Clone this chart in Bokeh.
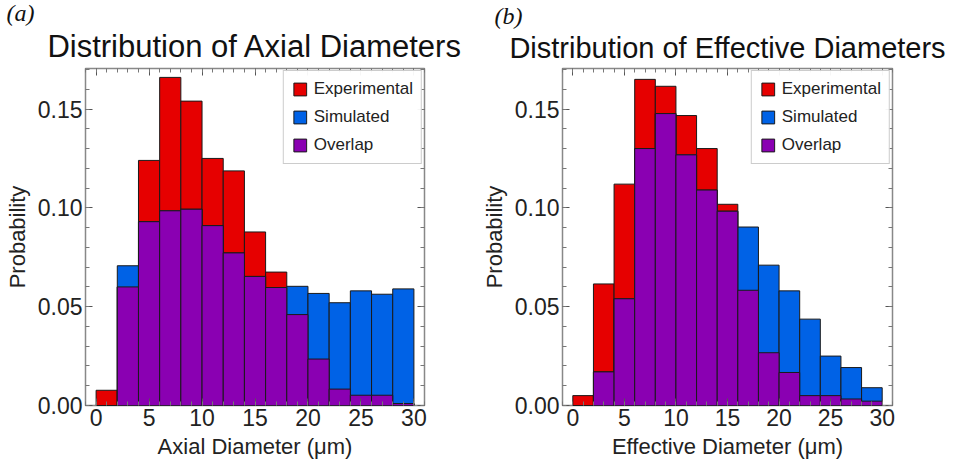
import numpy as np
from bokeh.plotting import figure
from bokeh.layouts import row
from bokeh.models import (Range1d, LinearAxis, SingleIntervalTicker, PrintfTickFormatter,
                          CustomJSTickFormatter, Legend, LegendItem, Title)
from bokeh.embed import file_html
from bokeh.resources import INLINE

bin_left = [0, 2, 4, 6, 8, 10, 12, 14, 16, 18, 20, 22, 24, 26, 28]
bin_right = [2, 4, 6, 8, 10, 12, 14, 16, 18, 20, 22, 24, 26, 28, 30]

axial_experimental = [0.0077, 0.060, 0.124, 0.166, 0.154, 0.125, 0.1187, 0.0878,
                      0.0675, 0.046, 0.0235, 0.0083, 0.0052, 0.0052, 0.001]
axial_simulated = [0.0, 0.0707, 0.093, 0.0985, 0.0993, 0.091, 0.0772, 0.0653,
                   0.0597, 0.0603, 0.0567, 0.052, 0.058, 0.0563, 0.059]

effective_experimental = [0.005, 0.0615, 0.112, 0.165, 0.1615, 0.1467, 0.130, 0.1018,
                          0.0583, 0.0267, 0.0167, 0.005, 0.005, 0.0033, 0.0022]
effective_simulated = [0.0, 0.017, 0.054, 0.130, 0.1477, 0.1268, 0.109, 0.0983,
                       0.0903, 0.071, 0.058, 0.0437, 0.025, 0.0192, 0.009]

x_ticks_interval = 5
y_ticks_interval = 0.05

RED = "#E60000"
BLUE = "#0062E6"
PURPLE = "#8A00B2"
FONT = "Liberation Sans"


def style_axis(ax, interval, show_labels):
    ax.ticker = SingleIntervalTicker(interval=interval, num_minor_ticks=5)
    ax.major_tick_in = 7
    ax.major_tick_out = 0
    ax.minor_tick_in = 4
    ax.minor_tick_out = 0
    ax.major_tick_line_color = "#555555"
    ax.minor_tick_line_color = "#777777"
    ax.axis_line_color = None
    ax.major_label_text_font = FONT
    ax.major_label_text_color = "#222222"
    ax.axis_label_text_font = FONT
    ax.axis_label_text_font_style = "normal"
    ax.axis_label_text_color = "#222222"
    if show_labels:
        ax.major_label_text_font_size = "23px"
        ax.axis_label_text_font_size = "22px"
        ax.major_label_standoff = 3
        ax.axis_label_standoff = 5
    else:
        ax.formatter = CustomJSTickFormatter(code="return ''")
        ax.major_label_standoff = 0


def make_panel(title, title_size, xlabel, tag, exp, sim, width, bl, br):
    p = figure(width=width, height=462, output_backend="svg", toolbar_location=None,
               title=None,
               x_range=Range1d(-1, 31), y_range=Range1d(0, 0.1705),
               min_border_left=bl, min_border_right=br, min_border_top=65,
               min_border_bottom=57)
    p.grid.visible = False
    p.outline_line_color = "#888888"
    p.outline_line_width = 1.5
    p.background_fill_color = "white"

    overlap = np.minimum(np.array(exp), np.array(sim))
    r_exp = p.quad(left=bin_left, right=bin_right, bottom=0, top=exp,
                   fill_color=RED, line_color="#1a1a1a", line_width=1)
    r_sim = p.quad(left=bin_left, right=bin_right, bottom=0, top=sim,
                   fill_color=BLUE, line_color="#1a1a1a", line_width=1)
    r_ov = p.quad(left=bin_left, right=bin_right, bottom=0, top=overlap,
                  fill_color=PURPLE, line_color="#1a1a1a", line_width=1)

    style_axis(p.xaxis[0], x_ticks_interval, True)
    style_axis(p.yaxis[0], y_ticks_interval, True)
    p.yaxis[0].formatter = PrintfTickFormatter(format="%.2f")
    p.xaxis[0].axis_label = xlabel
    p.yaxis[0].axis_label = "Probability"

    top = LinearAxis()
    style_axis(top, x_ticks_interval, False)
    p.add_layout(top, "above")
    right = LinearAxis()
    style_axis(right, y_ticks_interval, False)
    p.add_layout(right, "right")

    main_title = Title(text=title, text_font=FONT, text_font_size=title_size,
                       text_font_style="normal", text_color="#111111", align="center",
                       standoff=9)
    p.add_layout(main_title, "above")
    tag_title = Title(text=tag, text_font="Liberation Serif", text_font_size="24px",
                      text_font_style="italic", text_color="#111111", align="left",
                      offset=6 - bl, standoff=-6)
    p.add_layout(tag_title, "above")

    legend = Legend(items=[LegendItem(label="Experimental", renderers=[r_exp]),
                           LegendItem(label="Simulated", renderers=[r_sim]),
                           LegendItem(label="Overlap", renderers=[r_ov])],
                    location="top_right")
    legend.margin = 2
    legend.padding = 8
    legend.spacing = 8
    legend.glyph_width = 16
    legend.glyph_height = 16
    legend.label_height = 20
    legend.label_standoff = 6
    legend.label_text_font = FONT
    legend.label_text_font_size = "17px"
    legend.label_text_color = "#222222"
    legend.border_line_color = "#999999"
    legend.border_line_width = 1.5
    p.add_layout(legend)
    return p


p1 = make_panel("Distribution of Axial Diameters", "31px", "Axial Diameter (μm)", "(a)",
                axial_experimental, axial_simulated, 478, 85, 54)
p2 = make_panel("Distribution of Effective Diameters", "29px", "Effective Diameter (μm)", "(b)",
                effective_experimental, effective_simulated, 480, 74, 66)

layout = row(p1, p2)
open("out.html", "w").write(file_html(layout, INLINE))
